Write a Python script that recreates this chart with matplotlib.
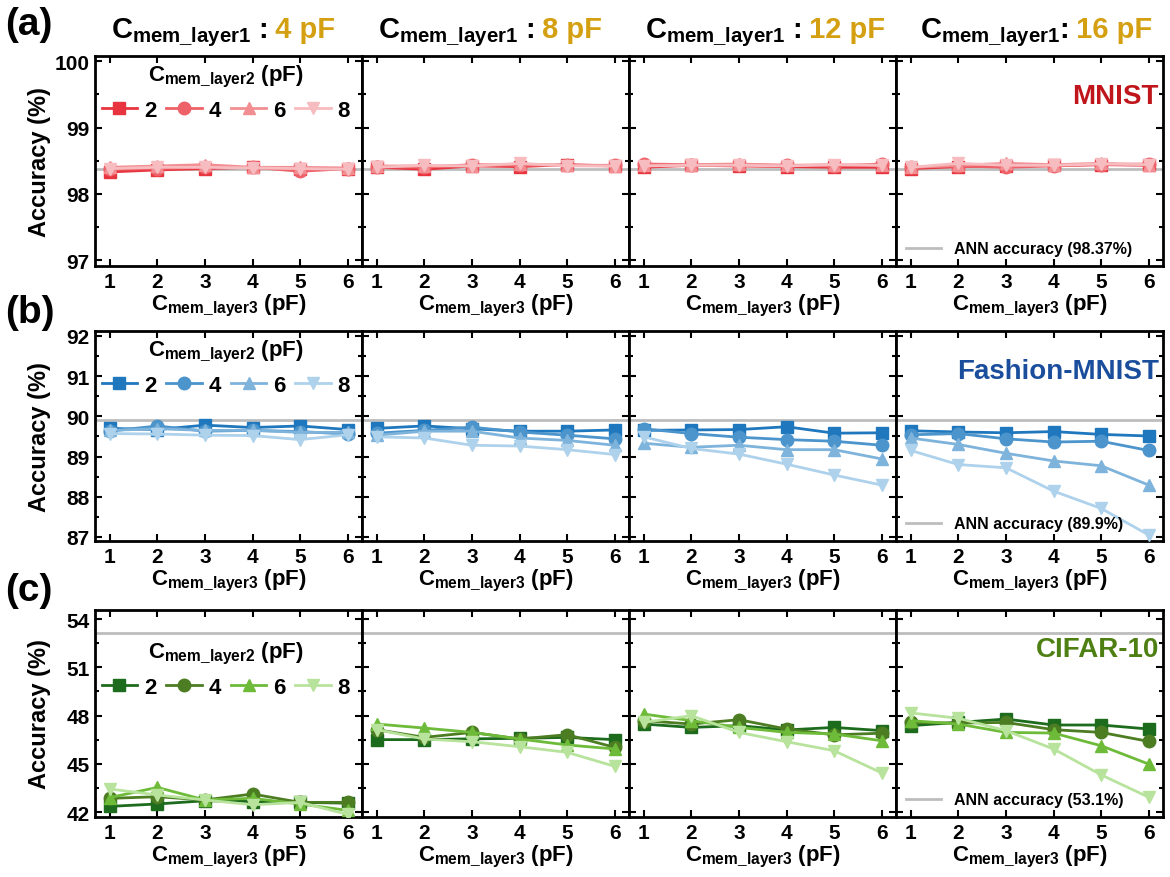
import numpy as np
import matplotlib
matplotlib.use("Agg")
import matplotlib.pyplot as plt
from matplotlib.ticker import MultipleLocator

plt.rcParams['font.family'] = ['Liberation Sans', 'DejaVu Sans']
plt.rcParams['font.weight'] = 'bold'
plt.rcParams['axes.labelweight'] = 'bold'
plt.rcParams['mathtext.fontset'] = 'custom'
plt.rcParams['mathtext.rm'] = 'Liberation Sans:bold'
plt.rcParams['mathtext.it'] = 'Liberation Sans:bold'
plt.rcParams['mathtext.bf'] = 'Liberation Sans:bold'

# x axis: C_mem_layer3 (pF), columns: C_mem_layer1 (pF), series: C_mem_layer2 (pF)
c_layer3 = [1, 2, 3, 4, 5, 6]
c_layer1 = [4, 8, 12, 16]
c_layer2 = [2, 4, 6, 8]

# MNIST accuracy (%), one row per C_mem_layer2 value
mnist_4pf = [[98.33, 98.36, 98.38, 98.40, 98.37, 98.38],
             [98.37, 98.38, 98.40, 98.40, 98.34, 98.38],
             [98.40, 98.42, 98.44, 98.40, 98.40, 98.39],
             [98.38, 98.40, 98.40, 98.39, 98.38, 98.37]]
mnist_8pf = [[98.40, 98.37, 98.42, 98.41, 98.44, 98.42],
             [98.41, 98.40, 98.44, 98.43, 98.43, 98.43],
             [98.42, 98.42, 98.42, 98.45, 98.43, 98.42],
             [98.40, 98.43, 98.42, 98.46, 98.42, 98.42]]
mnist_12pf = [[98.40, 98.43, 98.42, 98.41, 98.40, 98.40],
              [98.45, 98.44, 98.44, 98.43, 98.42, 98.45],
              [98.43, 98.44, 98.45, 98.43, 98.44, 98.43],
              [98.42, 98.43, 98.43, 98.42, 98.44, 98.43]]
mnist_16pf = [[98.38, 98.41, 98.42, 98.43, 98.44, 98.43],
              [98.40, 98.42, 98.40, 98.42, 98.44, 98.45],
              [98.40, 98.43, 98.46, 98.44, 98.46, 98.44],
              [98.40, 98.46, 98.43, 98.43, 98.45, 98.44]]

# Fashion-MNIST accuracy (%)
fashion_4pf = [[89.70, 89.67, 89.78, 89.72, 89.76, 89.67],
               [89.63, 89.76, 89.63, 89.65, 89.62, 89.56],
               [89.65, 89.69, 89.65, 89.65, 89.60, 89.60],
               [89.57, 89.56, 89.53, 89.52, 89.42, 89.54]]
fashion_8pf = [[89.70, 89.76, 89.69, 89.63, 89.63, 89.66],
               [89.58, 89.65, 89.73, 89.61, 89.53, 89.44],
               [89.53, 89.63, 89.63, 89.46, 89.40, 89.28],
               [89.49, 89.46, 89.28, 89.26, 89.17, 89.05]]
fashion_12pf = [[89.65, 89.66, 89.67, 89.74, 89.58, 89.59],
                [89.69, 89.57, 89.48, 89.42, 89.38, 89.28],
                [89.33, 89.23, 89.28, 89.17, 89.17, 88.94],
                [89.49, 89.20, 89.06, 88.81, 88.54, 88.29]]
fashion_16pf = [[89.64, 89.61, 89.59, 89.62, 89.55, 89.51],
                [89.54, 89.57, 89.44, 89.36, 89.38, 89.15],
                [89.46, 89.30, 89.08, 88.89, 88.77, 88.29],
                [89.15, 88.80, 88.72, 88.14, 87.71, 87.05]]

# CIFAR-10 accuracy (%)
cifar_4pf = [[42.35, 42.50, 42.70, 42.65, 42.60, 42.55],
             [42.85, 42.95, 42.75, 43.12, 42.60, 42.60],
             [42.90, 43.53, 42.75, 42.85, 42.50, 42.10],
             [43.43, 43.06, 42.75, 42.45, 42.60, 41.85]]
cifar_8pf = [[46.50, 46.50, 46.55, 46.58, 46.64, 46.50],
             [47.12, 46.64, 46.95, 46.54, 46.81, 46.02],
             [47.47, 47.22, 46.95, 46.54, 46.17, 45.92],
             [47.12, 46.54, 46.37, 46.06, 45.71, 44.84]]
cifar_12pf = [[47.47, 47.26, 47.37, 47.10, 47.26, 47.06],
              [47.68, 47.47, 47.74, 47.16, 46.80, 46.90],
              [48.09, 47.68, 47.26, 46.95, 46.85, 46.43],
              [47.57, 47.99, 46.95, 46.37, 45.81, 44.43]]
cifar_16pf = [[47.37, 47.57, 47.78, 47.41, 47.41, 47.16],
              [47.57, 47.53, 47.57, 47.12, 46.95, 46.39],
              [47.68, 47.47, 46.95, 46.91, 46.12, 44.98],
              [48.16, 47.83, 47.06, 45.92, 44.31, 42.92]]

ann_acc = [98.37, 89.9, 53.1]
ann_text = ["ANN accuracy (98.37%)", "ANN accuracy (89.9%)", "ANN accuracy (53.1%)"]
dataset_names = ["MNIST", "Fashion-MNIST", "CIFAR-10"]
row_tags = ["(a)", "(b)", "(c)"]

rows_data = [[mnist_4pf, mnist_8pf, mnist_12pf, mnist_16pf],
             [fashion_4pf, fashion_8pf, fashion_12pf, fashion_16pf],
             [cifar_4pf, cifar_8pf, cifar_12pf, cifar_16pf]]

markers = ['s', 'o', '^', 'v']
row_colors = [['#E8343E', '#EE6168', '#F28E92', '#F7BCC0'],
              ['#1F77BD', '#4B94CC', '#7EB3DB', '#AED2EB'],
              ['#1D6B1D', '#4C7D22', '#6EBB3A', '#B8E39C']]
name_colors = ['#C0151B', '#1A4E9C', '#4E7F12']
gold = '#D4A011'

ylims = [(96.91, 100.08), (86.9, 92.12), (41.69, 54.56)]
ymajor = [1, 1, 3]
yminor = [0.5, 0.5, 1.5]
legend_top = [1.0, 1.0, 0.89]  # CIFAR legend sits below the ANN line

W, H = 1170, 878
fig = plt.figure(figsize=(W / 100, H / 100), dpi=100)

left0 = 95 / W
pw = 267 / W
row_box = [(57, 267), (332, 542), (611, 818)]  # top, bottom in pixels

for r in range(3):
    top_px, bot_px = row_box[r]
    bottom = 1 - bot_px / H
    height = (bot_px - top_px) / H
    for c in range(4):
        ax = fig.add_axes([left0 + c * pw, bottom, pw, height])
        ax.axhline(ann_acc[r], color='#BDBDBD', lw=2, zorder=1,
                   label=ann_text[r])
        data = rows_data[r][c]
        for k in range(4):
            ax.plot(c_layer3, data[k], marker=markers[k], ms=9, lw=2,
                    color=row_colors[r][k], label=str(c_layer2[k]), zorder=2 + k)
        ax.set_xlim(0.69, 6.3)
        ax.set_ylim(*ylims[r])
        ax.set_xticks(c_layer3)
        ax.yaxis.set_major_locator(MultipleLocator(ymajor[r]))
        ax.yaxis.set_minor_locator(MultipleLocator(yminor[r]))
        ax.tick_params(which='both', direction='in', top=True, right=True,
                       width=1.5, labelsize=15, pad=4)
        ax.tick_params(which='major', length=5)
        ax.tick_params(which='minor', length=3)
        ax.tick_params(labelleft=(c == 0))
        for s in ax.spines.values():
            s.set_linewidth(2)
        ax.set_xlabel(r'$C_{mem\_layer3}$ (pF)', fontsize=16, labelpad=1)
        if c == 0:
            ax.set_ylabel('Accuracy (%)', fontsize=17)
            ax.yaxis.set_label_coords(-0.165, 0.5)
            h, l = ax.get_legend_handles_labels()
            ax.legend(h[1:], l[1:], ncol=4, loc='upper left',
                      bbox_to_anchor=(0, legend_top[r]),
                      title=r'$C_{mem\_layer2}$ (pF)', title_fontsize=16,
                      fontsize=16, frameon=False, handlelength=1.6,
                      handletextpad=0.3, columnspacing=0.45,
                      borderaxespad=0.1, borderpad=0.2)
        if c == 3:
            ax.text(0.985, 0.81, dataset_names[r], transform=ax.transAxes,
                    ha='right', va='center', fontsize=20,
                    color=name_colors[r])
            h, l = ax.get_legend_handles_labels()
            ax.legend(h[:1], l[:1], loc='lower left', fontsize=11.5,
                      frameon=False, handlelength=2.2, borderaxespad=0.2)

    fig.text(0.004, 1 - [25, 313, 591][r] / H, row_tags[r], fontsize=28,
             va='center', ha='left')

# column titles: black "C_mem_layer1 :" followed by the gold value
for c in range(4):
    xc = left0 + c * pw + 0.645 * pw
    sep = ' :' if c < 3 else ':'
    fig.text(xc, 1 - 38 / H, r'$C_{mem\_layer1}$' + sep, ha='right',
             va='baseline', fontsize=21)
    fig.text(xc, 1 - 38 / H, ' %d pF' % c_layer1[c], ha='left',
             va='baseline', fontsize=21, color=gold)

fig.savefig('out.png', dpi=100)
